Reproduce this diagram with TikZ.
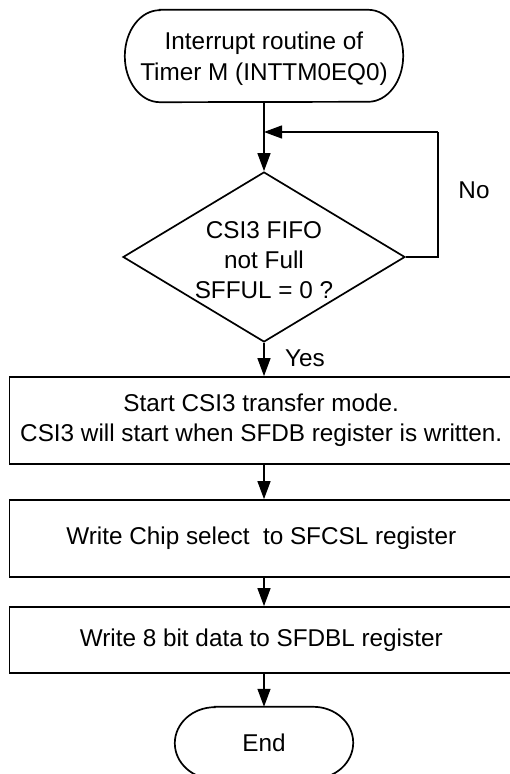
\documentclass[tikz,border=0pt]{standalone}
\usepackage{fontspec}
\setmainfont{Liberation Sans}
\usetikzlibrary{shapes.geometric,arrows.meta}

\tikzset{
  txt/.style={inner sep=0pt, align=center, font=\fontsize{24.3}{31}\selectfont},
  outline/.style={draw=black, line width=1.7pt, line join=miter},
  hidden/.style={draw=none, inner sep=0pt},
  stepbox/.style={outline, rectangle, minimum width=503.5pt, inner sep=0pt,
                  align=center, font=\fontsize{24.3}{30}\selectfont},
  decision/.style={outline, diamond, minimum width=282pt, minimum height=170pt, inner sep=0pt},
  conn/.style={draw=black, line width=1.3pt, -{Triangle[length=18pt,width=13pt]}},
  plain/.style={draw=black, line width=1.3pt},
}

\begin{document}
\begin{tikzpicture}[x=1pt, y=1pt]
  \clip (0,0) rectangle (510,774);
  \fill[white] (0,0) rectangle (510,774);

  % start terminator
  \node[hidden, minimum width=278pt, minimum height=92pt] (start) at (264,718) {};
  \draw[outline] ([xshift=35pt]start.north west) -- ([xshift=-35pt]start.north east)
    arc[start angle=90, end angle=-90, x radius=35pt, y radius=46pt]
    -- ([xshift=35pt]start.south west)
    arc[start angle=270, end angle=90, x radius=35pt, y radius=46pt] -- cycle;
  \node[txt] (starttext) at (264,715) {Interrupt routine of\\Timer M (INTTM0EQ0)};

  % decision
  \node[decision] (dec) at (264,517) {};
  \node[txt, font=\fontsize{24.3}{30}\selectfont] (dectext) at (264,514) {CSI3 FIFO\\not Full\\SFFUL = 0 ?};

  % process boxes
  \node[stepbox, minimum height=87pt] (box1) at (261.25,353.5)
    {Start CSI3 transfer mode.\\CSI3 will start when SFDB register is written.};
  \node[stepbox, minimum height=77pt] (box2) at (261.25,235.5)
    {Write Chip select\ \ to SFCSL register};
  \node[stepbox, minimum height=66pt] (box3) at (261.25,134)
    {Write 8 bit data to SFDBL register};

  % end terminator
  \node[hidden, minimum width=178pt, minimum height=72pt] (finish) at (264,31) {};
  \draw[outline] ([xshift=40pt]finish.north west) -- ([xshift=-40pt]finish.north east)
    arc[start angle=90, end angle=-90, x radius=40pt, y radius=36pt]
    -- ([xshift=40pt]finish.south west)
    arc[start angle=270, end angle=90, x radius=40pt, y radius=36pt] -- cycle;
  \node[txt] (finishtext) at (264,31) {End};

  % loop back
  \coordinate (join) at (264,642);
  \coordinate (loopc) at (438,642);
  \draw[conn] (start.south) -- (dec.north);
  \draw[plain] (dec.east) -| (loopc);
  \draw[conn] (loopc) -- (join);
  \node[txt] (nolabel) at (474,584) {No};

  % main flow
  \draw[conn] (dec.south) -- (dec.south |- box1.north);
  \node[txt] (yeslabel) at (305,416) {Yes};
  \draw[conn] (box1.south -| dec.south) -- (box2.north -| dec.south);
  \draw[conn] (box2.south -| dec.south) -- (box3.north -| dec.south);
  \draw[conn] (box3.south -| dec.south) -- (finish.north);
\end{tikzpicture}
\end{document}
